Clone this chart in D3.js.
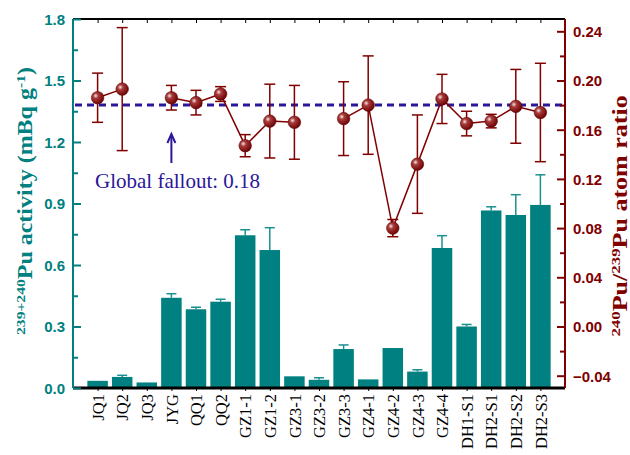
<!DOCTYPE html>
<html lang="en">
<head>
  <meta charset="UTF-8">
  <title>Pu activity and atom ratio</title>
  <style>
    body { margin: 0; background: #fff; }
  </style>
</head>
<body>

  <svg id="svg" width="630" height="455"></svg>

  <script src="https://d3js.org/d3.v7.min.js"></script>
  <script>

    const samples = ['JQ1', 'JQ2', 'JQ3', 'JYG', 'QQ1', 'QQ2', 'GZ1-1', 'GZ1-2', 'GZ3-1', 'GZ3-2',
      'GZ3-3', 'GZ4-1', 'GZ4-2', 'GZ4-3', 'GZ4-4', 'DH1-S1', 'DH2-S1', 'DH2-S2', 'DH2-S3']

    // 239+240Pu activity (mBq/g) and its error
    const activity = [0.035, 0.054, 0.027, 0.44, 0.384, 0.421, 0.745, 0.673, 0.057, 0.040,
      0.19, 0.042, 0.195, 0.08, 0.683, 0.30, 0.866, 0.844, 0.893]
    const activityErr = [0, 0.008, 0, 0.02, 0.01, 0.012, 0.027, 0.109, 0, 0.01,
      0.02, 0, 0, 0.009, 0.06, 0.01, 0.018, 0.099, 0.147]

    // 240Pu/239Pu atom ratio, null where not measured
    const ratio = [0.186, 0.193, null, 0.186, 0.182, 0.189, 0.147, 0.167, 0.166, null,
      0.169, 0.180, 0.080, 0.132, 0.185, 0.165, 0.167, 0.179, 0.174]
    const ratioErr = [0.02, 0.05, null, 0.01, 0.01, 0.006, 0.009, 0.03, 0.03, null,
      0.03, 0.04, 0.007, 0.04, 0.02, 0.01, 0.0055, 0.03, 0.04]

    const leftTicks = [0, 0.3, 0.6, 0.9, 1.2, 1.5, 1.8]
    const rightTicks = [-0.04, 0, 0.04, 0.08, 0.12, 0.16, 0.20, 0.24]
    const globalFallout = 0.18

    const mLeft = 73, mRight = 565, mTop = 19, mBottom = 388
    const teal = '#008080', red = '#800000', blue = '#2a1899'

    const svg = d3.select('#svg')

    const x = d3.scaleLinear().domain([0, samples.length + 1]).range([mLeft, mRight])
    const yL = d3.scaleLinear().domain([0, 1.8]).range([mBottom, mTop])
    const yR = d3.scaleLinear().domain([-0.05, 0.25]).range([mBottom, mTop])

    const defs = svg.append('defs')
    const grad = defs.append('radialGradient').attr('id', 'ball')
      .attr('cx', '0.35').attr('cy', '0.35').attr('r', '0.7')
    grad.append('stop').attr('offset', '0').attr('stop-color', '#f4e8e8')
    grad.append('stop').attr('offset', '0.3').attr('stop-color', '#a83a3a')
    grad.append('stop').attr('offset', '1').attr('stop-color', '#6a0000')

    const bw = 20.5

    // bars
    svg.append('g').selectAll('rect')
      .data(activity)
      .enter()
      .append('rect')
      .attr('x', (d, i) => x(i + 1) - bw / 2)
      .attr('y', d => yL(d))
      .attr('width', bw)
      .attr('height', d => mBottom - yL(d))
      .attr('fill', teal)

    // bar error bars (upper only)
    const be = svg.append('g').attr('stroke', '#1a9090').attr('stroke-width', 1.5)
    activity.forEach((d, i) => {
      if (!activityErr[i]) return
      const cx = x(i + 1)
      be.append('line').attr('x1', cx).attr('x2', cx).attr('y1', yL(d)).attr('y2', yL(d + activityErr[i]))
      be.append('line').attr('x1', cx - 5).attr('x2', cx + 5).attr('y1', yL(d + activityErr[i])).attr('y2', yL(d + activityErr[i]))
    })

    // global fallout line
    svg.append('line')
      .attr('x1', mLeft + 2).attr('x2', mRight)
      .attr('y1', yR(globalFallout)).attr('y2', yR(globalFallout))
      .attr('stroke', blue).attr('stroke-width', 3)
      .attr('stroke-dasharray', '7 5')

    // ratio line
    const pts = ratio.map((d, i) => ({ i: i + 1, v: d, e: ratioErr[i] }))
    svg.append('path')
      .datum(pts)
      .attr('fill', 'none')
      .attr('stroke', red)
      .attr('stroke-width', 1.5)
      .attr('d', d3.line().defined(d => d.v !== null).x(d => x(d.i)).y(d => yR(d.v)))

    // ratio error bars
    const re = svg.append('g').attr('stroke', red).attr('stroke-width', 1.5)
    pts.filter(d => d.v !== null).forEach(d => {
      const cx = x(d.i)
      re.append('line').attr('x1', cx).attr('x2', cx).attr('y1', yR(d.v - d.e)).attr('y2', yR(d.v + d.e))
      ;[d.v - d.e, d.v + d.e].forEach(v => {
        re.append('line').attr('x1', cx - 5.5).attr('x2', cx + 5.5).attr('y1', yR(v)).attr('y2', yR(v))
      })
    })

    svg.append('g').selectAll('circle')
      .data(pts.filter(d => d.v !== null))
      .enter()
      .append('circle')
      .attr('cx', d => x(d.i))
      .attr('cy', d => yR(d.v))
      .attr('r', 6.3)
      .attr('fill', 'url(#ball)')
      .attr('stroke', '#5a0000')
      .attr('stroke-width', 0.5)

    // annotation
    const ax = x(4)
    svg.append('line').attr('x1', ax).attr('x2', ax).attr('y1', 163).attr('y2', 136)
      .attr('stroke', blue).attr('stroke-width', 2)
    svg.append('path').attr('d', `M${ax - 4},${143} L${ax},${134} L${ax + 4},${143}`)
      .attr('fill', 'none').attr('stroke', blue).attr('stroke-width', 2)
    svg.append('text').attr('x', 95).attr('y', 188)
      .attr('font-family', 'Liberation Serif, Times New Roman, serif').attr('font-size', 21)
      .attr('fill', blue).text('Global fallout: 0.18')

    // top & bottom axes
    const idx = d3.range(1, samples.length + 1)
    svg.append('g').attr('transform', `translate(0,${mTop})`)
      .call(d3.axisTop(x).tickValues(idx).tickSize(-4).tickFormat(''))
      .call(g => g.select('.domain').attr('stroke-width', 2).attr('d', `M${mLeft},0H${mRight}`))
    const bax = svg.append('g').attr('transform', `translate(0,${mBottom})`)
      .call(d3.axisBottom(x).tickValues(idx).tickSize(3).tickFormat((d) => samples[d - 1]))
    bax.select('.domain').attr('stroke-width', 3).attr('d', `M${mLeft},0H${mRight}`)
    bax.selectAll('text')
      .attr('font-family', 'Liberation Serif, Times New Roman, serif')
      .attr('font-size', 16.5)
      .attr('fill', '#000')
      .attr('transform', 'rotate(-90)')
      .attr('text-anchor', 'end')
      .attr('dy', '0.35em')
      .attr('x', -6)
      .attr('y', 0)

    // left axis
    const leftMinor = d3.range(0.15, 1.8, 0.3)
    const lax = svg.append('g').attr('transform', `translate(${mLeft},0)`)
    lax.call(d3.axisLeft(yL).tickValues(leftMinor).tickSize(-5).tickFormat(''))
      .call(g => g.select('.domain').remove())
    lax.append('g').call(d3.axisLeft(yL).tickValues(leftTicks).tickSize(-8).tickPadding(8).tickFormat(d3.format('.1f')))
      .call(g => g.select('.domain').attr('d', `M0,${mTop}V${mBottom}`))
    lax.selectAll('line, path').attr('stroke', teal).attr('stroke-width', 2)
    lax.selectAll('text').attr('fill', teal).attr('font-family', 'Liberation Sans, Arial, sans-serif')
      .attr('font-weight', 'bold').attr('font-size', 15).attr('dy', '0.36em')

    // right axis
    const rightMinor = d3.range(-0.02, 0.25, 0.04)
    const rax = svg.append('g').attr('transform', `translate(${mRight},0)`)
    rax.call(d3.axisRight(yR).tickValues(rightMinor).tickSize(-5).tickFormat(''))
      .call(g => g.select('.domain').remove())
    rax.append('g').call(d3.axisRight(yR).tickValues(rightTicks).tickSize(-8).tickPadding(8).tickFormat(d3.format('.2f')))
      .call(g => g.select('.domain').attr('d', `M0,${mTop}V${mBottom}`))
    rax.selectAll('line, path').attr('stroke', red).attr('stroke-width', 2)
    rax.selectAll('text').attr('fill', red).attr('font-family', 'Liberation Sans, Arial, sans-serif')
      .attr('font-weight', 'bold').attr('font-size', 15).attr('dy', '0.36em')

    // axis titles
    const lt = svg.append('text')
      .attr('transform', `translate(32,201) rotate(-90) scale(1.2,1)`)
      .attr('text-anchor', 'middle')
      .attr('font-family', 'Liberation Serif, Times New Roman, serif')
      .attr('font-weight', 'bold').attr('font-size', 20).attr('fill', teal)
    lt.append('tspan').attr('font-size', 13).attr('dy', -7).text('239+240')
    lt.append('tspan').attr('dy', 7).text('Pu activity (mBq g')
    lt.append('tspan').attr('font-size', 13).attr('dy', -7).text('-1')
    lt.append('tspan').attr('dy', 7).text(')')

    const rt = svg.append('text')
      .attr('transform', `translate(627,216) rotate(-90) scale(1.3,1)`)
      .attr('text-anchor', 'middle')
      .attr('font-family', 'Liberation Serif, Times New Roman, serif')
      .attr('font-weight', 'bold').attr('font-size', 20).attr('fill', red)
    rt.append('tspan').attr('font-size', 13).attr('dy', -7).text('240')
    rt.append('tspan').attr('dy', 7).text('Pu/')
    rt.append('tspan').attr('font-size', 13).attr('dy', -7).text('239')
    rt.append('tspan').attr('dy', 7).text('Pu atom ratio')

  </script>
</body>
</html>
